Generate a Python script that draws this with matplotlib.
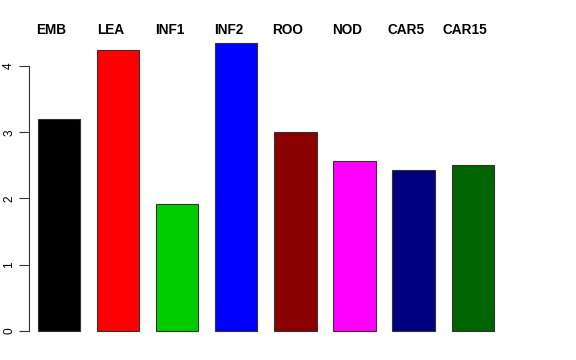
import matplotlib
matplotlib.use('Agg')
import matplotlib.pyplot as plt
import numpy as np

# tissue groups and their values
groups = ['EMB', 'LEA', 'INF1', 'INF2', 'ROO', 'NOD', 'CAR5', 'CAR15']
values = [3.20, 4.24, 1.91, 4.35, 3.01, 2.57, 2.43, 2.50]
colors = ['black', 'red', '#00CD00', 'blue', '#8B0000', 'magenta', '#000080', '#006400']
yticks = [0, 1, 2, 3, 4]

plt.rcParams['font.family'] = ['Liberation Sans', 'DejaVu Sans']

W, H = 576, 360
fig = plt.figure(figsize=(W / 100, H / 100), dpi=100)

# plot region in pixels (R-like barplot, space=0.4)
left_px, right_px = 29, 513
top_px, bottom_px = 31.3, 342.5
ax = fig.add_axes([left_px / W, 1 - bottom_px / H,
                   (right_px - left_px) / W, (bottom_px - top_px) / H])

step = 1.4
x = 0.4 + step * np.arange(len(groups)) + 0.5
ax.bar(x, values, width=1.0, color=colors, edgecolor='#333333', linewidth=0.8)

px_per_unit = 42.2
ax.set_xlim(0.4 - (38 - left_px) / px_per_unit,
            0.4 - (38 - left_px) / px_per_unit + (right_px - left_px) / px_per_unit)
ax.set_ylim(-0.174, 4.524)

for s in ['top', 'right', 'bottom']:
    ax.spines[s].set_visible(False)
ax.spines['left'].set_bounds(0, 4)
ax.spines['left'].set_color('#333333')
ax.spines['left'].set_linewidth(0.8)
ax.set_xticks([])
ax.set_yticks(yticks)
ax.set_yticklabels([str(t) for t in yticks], rotation=90, va='center', fontsize=8.6)
ax.tick_params(axis='y', length=7, width=0.8, color='#333333', pad=3)

# group labels above the plot
for xi, g in zip(x, groups):
    ax.text(xi - 0.18, 1 - (30 - top_px) / (bottom_px - top_px), g,
            transform=ax.get_xaxis_transform(), ha='center', va='center',
            fontsize=9.8, fontweight='bold')

fig.savefig('out.png', dpi=100)
